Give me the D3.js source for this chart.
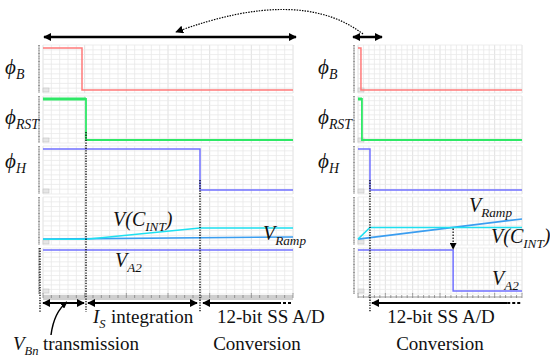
<!DOCTYPE html>
<html>
<head>
<meta charset="utf-8">
<script src="https://cdn.jsdelivr.net/npm/d3@7"></script>
</head>
<body style="margin:0">
<svg id="chart" width="550" height="362"></svg>
<script>
// time runs 0..100 in both plots, signal levels 0..1
const phiB_left   = [[0, 1], [15.6, 1], [15.6, 0], [100, 0]];
const phiRST_left = [[0, 1], [17.2, 1], [17.2, 0], [100, 0]];
const phiH_left   = [[0, 1], [62.8, 1], [62.8, 0], [100, 0]];
const vcint_left  = [[0, 0.09], [17.2, 0.09], [62.8, 0.35], [100, 0.35]];
const vramp_left  = [[0, 0.09], [100, 0.14]];
const va2_left    = [[0, 1], [100, 1]];

const phiB_right   = [[0, 1], [1.8, 1], [1.8, 0], [100, 0]];
const phiRST_right = [[0, 1], [2.4, 1], [2.4, 0], [100, 0]];
const phiH_right   = [[0, 1], [7.3, 1], [7.3, 0], [100, 0]];
const vcint_right  = [[0, 0.09], [7.3, 0.36], [100, 0.36]];
const vramp_right  = [[0, 0.09], [100, 0.56]];
const va2_right    = [[0, 1], [58, 1], [58, 0], [100, 0]];

const leftPhases  = [0, 17.2, 62.8, 100];   // VBn transmission | IS integration | A/D
const rightPhases = [7.3, 100];

// captions: [x, y, size, italic, anchor, parts]  parts = [text, isSubscript]
const captions = [
  [5, 74, 21, true, "start", [["\u03d5"], ["B", 1]]],
  [5, 124, 21, true, "start", [["\u03d5"], ["RST", 1]]],
  [5, 168, 21, true, "start", [["\u03d5"], ["H", 1]]],
  [318, 74, 21, true, "start", [["\u03d5"], ["B", 1]]],
  [318, 124, 21, true, "start", [["\u03d5"], ["RST", 1]]],
  [318, 168, 21, true, "start", [["\u03d5"], ["H", 1]]],
  [113, 226, 20, true, "start", [["V(C"], ["INT", 1], [")"]]],
  [263, 240, 20, true, "start", [["V"], ["Ramp", 1]]],
  [115, 267, 20, true, "start", [["V"], ["A2", 1]]],
  [469, 212, 20, true, "start", [["V"], ["Ramp", 1]]],
  [491, 243, 20, true, "start", [["V(C"], ["INT", 1], [")"]]],
  [492, 285, 20, true, "start", [["V"], ["A2", 1]]],
  [93, 323, 19, true, "start", [["I"], ["S", 1]]],
  [111, 323, 19, false, "start", [["integration"]]],
  [13, 350, 19, true, "start", [["V"], ["Bn", 1]]],
  [43, 350, 19, false, "start", [["transmission"]]],
  [217, 323, 19, false, "start", [["12-bit SS A/D"]]],
  [257, 350, 19, false, "middle", [["Conversion"]]],
  [441, 323, 19, false, "middle", [["12-bit SS A/D"]]],
  [440, 350, 19, false, "middle", [["Conversion"]]]
];

const svg = d3.select("#chart").style("font-family", "Liberation Serif");

const xL = d3.scaleLinear().domain([0, 100]).range([43, 293]);
const xR = d3.scaleLinear().domain([0, 100]).range([358, 522]);

// panel boxes (top, bottom) and y scales
const panels = [[45, 93], [96, 143], [146, 194], [197, 245], [248, 294]];
const yB   = d3.scaleLinear().domain([0, 1]).range([90, 48]);
const yRST = d3.scaleLinear().domain([0, 1]).range([140, 99]);
const yH   = d3.scaleLinear().domain([0, 1]).range([190, 149]);
const yV   = d3.scaleLinear().domain([0, 1]).range([243, 200]);
const yA2  = d3.scaleLinear().domain([0, 1]).range([291, 250]);

const defs = svg.append("defs");
defs.append("marker").attr("id", "ah")
  .attr("viewBox", "0 0 10 10").attr("refX", 9).attr("refY", 5)
  .attr("markerWidth", 8).attr("markerHeight", 8).attr("markerUnits", "userSpaceOnUse")
  .attr("orient", "auto-start-reverse")
  .append("path").attr("d", "M0,0L10,5L0,10z").attr("fill", "#000");
defs.append("marker").attr("id", "ahs")
  .attr("viewBox", "0 0 10 10").attr("refX", 9).attr("refY", 5)
  .attr("markerWidth", 7).attr("markerHeight", 7).attr("markerUnits", "userSpaceOnUse")
  .attr("orient", "auto-start-reverse")
  .append("path").attr("d", "M0,0L10,5L0,10z").attr("fill", "#000");

function drawFrame(x) {
  const [x0, x1] = x.range();
  panels.forEach(([t, b]) => {
    const g = svg.append("g");
    const xs = d3.range(x0, x1 + 0.1, (x1 - x0) / 30);
    const ys = d3.range(t, b + 0.1, (b - t) / 10);
    g.selectAll(".vx").data(xs).join("line")
      .attr("x1", d => d).attr("x2", d => d).attr("y1", t).attr("y2", b)
      .attr("stroke", (d, i) => i % 5 === 0 ? "#d8d8d8" : "#e8e8e8").attr("stroke-width", 0.8);
    g.selectAll(".hy").data(ys).join("line")
      .attr("x1", x0).attr("x2", x1).attr("y1", d => d).attr("y2", d => d)
      .attr("stroke", "#e8e8e8").attr("stroke-width", 0.8);
    // tick strip on the left
    g.append("line").attr("x1", x0 - 4).attr("x2", x0 - 4).attr("y1", t).attr("y2", b)
      .attr("stroke", "#9a9a9a").attr("stroke-width", 2).attr("stroke-dasharray", "1,0.6");
    g.append("rect").attr("x", x0).attr("y", b - 5).attr("width", 6).attr("height", 4)
      .attr("fill", "#e6e6e6").attr("stroke", "#bbb").attr("stroke-width", 0.5);
  });
}

function drawAxis(x, band) {
  const [x0, x1] = x.range();
  if (band) {
    svg.append("rect").attr("x", x0).attr("y", 295).attr("width", x1 - x0).attr("height", 5)
      .attr("fill", "#cfcfcf");
  } else {
    svg.append("line").attr("x1", x0).attr("x2", x1).attr("y1", 297).attr("y2", 297)
      .attr("stroke", "#999").attr("stroke-width", 1);
  }
  const ticks = d3.range(x0, x1 + 0.1, (x1 - x0) / 30);
  svg.selectAll(null).data(ticks).join("line")
    .attr("x1", d => d).attr("x2", d => d)
    .attr("y1", (d, i) => i % 5 === 0 ? 293 : 295).attr("y2", 298)
    .attr("stroke", "#777").attr("stroke-width", 0.7);
}

drawFrame(xL);
drawFrame(xR);
drawAxis(xL, true);
drawAxis(xR, false);

function trace(data, x, y, color, w) {
  svg.append("path").datum(data)
    .attr("d", d3.line().x(d => x(d[0])).y(d => y(d[1])))
    .attr("fill", "none").attr("stroke", color).attr("stroke-width", w);
}

const RED = "#ff7a7a", GREEN = "#2ee866", BLUE = "#7070ff", CYAN = "#1ee0f0", RAMP = "#3a9df0";

[[xL, phiB_left, phiRST_left, phiH_left, vcint_left, vramp_left, va2_left],
 [xR, phiB_right, phiRST_right, phiH_right, vcint_right, vramp_right, va2_right]]
.forEach(([x, b, rst, h, vc, vr, a2]) => {
  trace(b, x, yB, RED, 1.5);
  trace(rst, x, yRST, GREEN, 1.8);
  trace(rst.slice(0, 2), x, yRST, GREEN, 3);
  trace(h, x, yH, BLUE, 1.5);
  trace(vr, x, yV, RAMP, 1.6);
  trace(vc, x, yV, CYAN, 1.5);
  trace(a2, x, yA2, BLUE, 1.5);
});

// dotted phase markers
function vdots(xp, y0, y1) {
  svg.append("line").attr("x1", xp).attr("x2", xp).attr("y1", y0).attr("y2", y1)
    .attr("stroke", "#000").attr("stroke-width", 1.3).attr("stroke-dasharray", "1.3,1.3");
}
vdots(xL(leftPhases[0]) - 3, 248, 312);
vdots(xL(leftPhases[1]), 132, 312);
vdots(xL(leftPhases[2]), 180, 312);
vdots(xR(rightPhases[0]), 180, 312);

// crossing arrow in the right plot
const cross = va2_right[1][0];
svg.append("line").attr("x1", xR(cross)).attr("x2", xR(cross))
  .attr("y1", yV(vcint_right[1][1]) + 1).attr("y2", yA2(1) - 1)
  .attr("stroke", "#000").attr("stroke-width", 1.2).attr("stroke-dasharray", "1.5,1.5")
  .attr("marker-end", "url(#ahs)");

// phase arrows under the axis
function harrow(xa, xb, y, both, w) {
  const l = svg.append("line").attr("x1", xa).attr("x2", xb).attr("y1", y).attr("y2", y)
    .attr("stroke", "#000").attr("stroke-width", w).attr("marker-end", "url(#ah)");
  if (both) l.attr("marker-start", "url(#ah)");
  return l;
}
harrow(xL(leftPhases[0]), xL(leftPhases[1]) - 2, 303, true, 2);
harrow(xL(leftPhases[1]) + 2, xL(leftPhases[2]) - 3, 303, true, 2);
harrow(xL(94), xL(leftPhases[2]) + 3, 303, false, 2);
svg.append("line").attr("x1", xL(94)).attr("x2", xL(100)).attr("y1", 303).attr("y2", 303)
  .attr("stroke", "#000").attr("stroke-width", 2).attr("stroke-dasharray", "3,2");
harrow(xR(91), xR(rightPhases[0]) + 2, 303, false, 2);
svg.append("line").attr("x1", xR(91)).attr("x2", xR(100)).attr("y1", 303).attr("y2", 303)
  .attr("stroke", "#000").attr("stroke-width", 2).attr("stroke-dasharray", "3,2");

// top span arrows
harrow(xL(0) + 1, 296, 37, true, 2.5);
harrow(353, 382, 37, true, 2.5);

// dotted curve linking the two spans
svg.append("path").attr("d", "M363,34 Q300,-14 176,32")
  .attr("fill", "none").attr("stroke", "#000").attr("stroke-width", 1.2)
  .attr("stroke-dasharray", "1.5,1.2").attr("marker-end", "url(#ah)");

// VBn pointer
svg.append("path").attr("d", "M51,335 Q54,312 67,302")
  .attr("fill", "none").attr("stroke", "#000").attr("stroke-width", 1.5)
  .attr("marker-end", "url(#ahs)");

// captions with subscripts
const txt = svg.selectAll(null).data(captions).join("text")
  .attr("x", d => d[0]).attr("y", d => d[1])
  .attr("font-size", d => d[2])
  .attr("text-anchor", d => d[4])
  .attr("fill", "#111")
  .style("font-family", "\"Liberation Serif\"")
  .style("font-style", d => d[3] ? "italic" : "normal");

txt.each(function(d) {
  const t = d3.select(this);
  let shift = 0;
  d[5].forEach(([s, sub]) => {
    const dy = (sub ? 5 : 0) - shift;
    shift = sub ? 5 : 0;
    t.append("tspan").attr("dy", dy).attr("font-size", sub ? d[2] * 0.66 : d[2]).text(s);
  });
});
</script>
</body>
</html>
